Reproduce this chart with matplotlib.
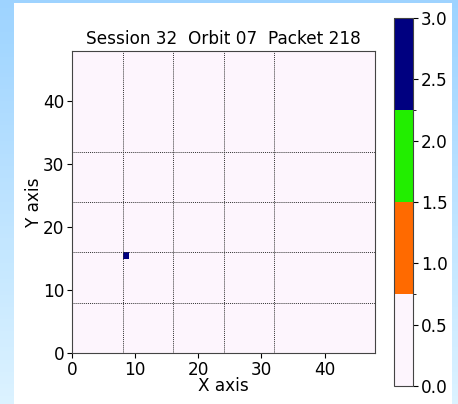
import numpy as np
import matplotlib.pyplot as plt
from matplotlib.colors import ListedColormap, BoundaryNorm

# data
n_pix = 48
hit_x = [8]
hit_y = [15]
hit_val = [3]
levels = [0, 0.75, 1.5, 2.25, 3.0]
cb_ticks = [0.0, 0.5, 1.0, 1.5, 2.0, 2.5, 3.0]
title = "Session 32  Orbit 07  Packet 218"

grid = np.zeros((n_pix, n_pix))
for x, y, v in zip(hit_x, hit_y, hit_val):
    grid[y, x] = v

cmap = ListedColormap(["#fdf5fd", "#ff6a00", "#22ee00", "#000080"])
norm = BoundaryNorm(levels, cmap.N)
fs = 12.2

fig = plt.figure(figsize=(4.58, 4.04), dpi=100)

# screenshot backdrop: blue gradient with white page
bg = fig.add_axes([0, 0, 1, 1], zorder=-10)
grad = np.linspace(0, 1, 100).reshape(-1, 1)
bg.imshow(grad, aspect="auto", cmap=ListedColormap(np.linspace([0.62, 0.83, 1.0], [0.86, 0.95, 1.0], 64)),
          extent=[0, 1, 0, 1], origin="upper")
bg.add_patch(plt.Rectangle((14 / 458, 0), (452 - 14) / 458, 1 - 3 / 404, color="white", lw=0))
bg.set_xlim(0, 1)
bg.set_ylim(0, 1)
bg.axis("off")

ax = fig.add_axes([72 / 458, 51 / 404, 303 / 458, 302 / 404])
mesh = ax.pcolormesh(np.arange(n_pix + 1), np.arange(n_pix + 1), grid, cmap=cmap, norm=norm)
ax.set_xlim(0, n_pix)
ax.set_ylim(0, n_pix)
ax.set_xticks([0, 10, 20, 30, 40])
ax.set_yticks([0, 10, 20, 30, 40])
ax.set_xticks(np.arange(8, n_pix, 8), minor=True)
ax.set_yticks(np.arange(8, n_pix, 8), minor=True)
ax.tick_params(which="minor", length=0)
ax.grid(which="minor", color="#333333", linestyle=(0, (1, 1)), linewidth=0.7)
ax.tick_params(labelsize=fs, pad=2)
ax.set_xlabel("X axis", fontsize=fs, labelpad=-1)
ax.set_ylabel("Y axis", fontsize=fs, labelpad=0)
ax.set_title(title, fontsize=fs, pad=5)
for s in ax.spines.values():
    s.set_color("#444444")

cax = fig.add_axes([394 / 458, 18 / 404, 19 / 458, 368 / 404])
cb = fig.colorbar(mesh, cax=cax, ticks=cb_ticks)
cb.ax.tick_params(labelsize=fs, pad=2)
cb.outline.set_edgecolor("#444444")

fig.savefig("out.png", dpi=100)
